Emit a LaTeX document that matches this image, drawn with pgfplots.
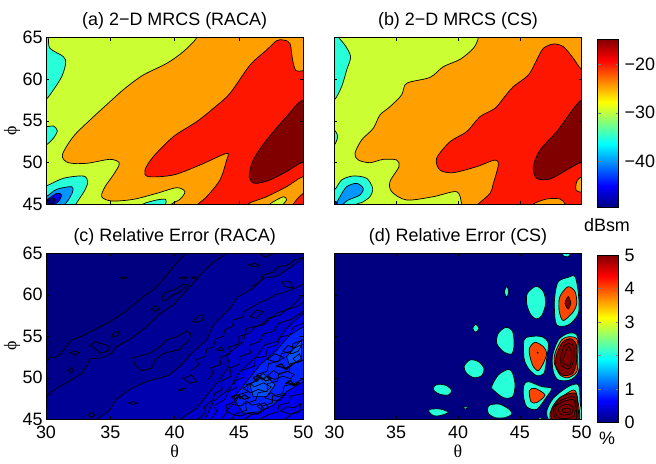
\documentclass[border=0pt]{standalone}
\usepackage{fontspec}
\setmainfont{Liberation Sans}
\newfontfamily\symf{Liberation Serif}
\usepackage{pgfplots}
\pgfplotsset{compat=1.18}
\definecolor{lime}{RGB}{204,255,51}
\definecolor{cya}{RGB}{38,255,215}
\definecolor{azu}{RGB}{0,150,255}
\definecolor{blu}{RGB}{0,0,235}
\definecolor{nav}{RGB}{0,0,128}
\definecolor{ora}{RGB}{255,160,0}
\definecolor{redd}{RGB}{255,22,0}
\definecolor{dred}{RGB}{128,0,0}
\definecolor{ored}{RGB}{255,70,0}
\definecolor{ca}{RGB}{0,0,138}
\definecolor{cb}{RGB}{0,0,150}
\definecolor{cc}{RGB}{0,0,175}
\definecolor{cd}{RGB}{0,0,200}
\definecolor{ce}{RGB}{0,0,240}
\definecolor{cf}{RGB}{0,35,255}
\definecolor{cg}{RGB}{0,80,255}
\pgfplotsset{
  panel/.style={
    scale only axis, anchor=south west,
    xmin=30, xmax=50, ymin=45, ymax=65,
    axis on top, tick align=inside, major tick length=3bp,
    axis line style={line width=0.8bp}, every tick/.append style={line width=0.5bp,black},
    xtick={30,35,...,50}, ytick={45,50,...,65},
    tick label style={font=\fontsize{18}{18}\selectfont},
    xticklabel style={yshift=-3bp},
    /pgf/number format/assume math mode=true,
    title style={font=\fontsize{18}{20}\selectfont, yshift=-1.5bp},
    label style={font=\fontsize{18}{18}\selectfont\symf},
    xlabel style={yshift=-1.5bp, inner sep=1bp},
    ylabel style={at={(axis description cs:-0.132,0.44)}, anchor=center},
  },
  blob/.style={smooth cycle, draw=black, line width=0.7bp, mark=none},
  poly/.style={draw=black, line width=0.7bp, mark=none},
  line/.style={draw=black, line width=0.7bp, mark=none},
  cbar/.style={
    scale only axis, anchor=south west, axis on top,
    width=21bp, xmin=0, xmax=1, xtick=\empty,
    yticklabel pos=right, tick align=inside, major tick length=3bp,
    axis line style={line width=0.8bp},
    tick label style={font=\fontsize{18}{18}\selectfont},
    yticklabel style={xshift=2.5bp},
    /pgf/number format/assume math mode=true,
    colormap/jet,
  },
}
\begin{document}
\begin{tikzpicture}
\path[use as bounding box] (0,0) rectangle (656bp,464bp);

% (a) 2-D MRCS (RACA)
\begin{axis}[panel, at={(46bp,260bp)}, width=257.3bp, height=166.3bp,
  axis background/.style={fill=lime}, title={(a) 2−D MRCS (RACA)},
  xticklabels={}, ylabel={ϕ}]
\addplot[blob, fill=ora] coordinates {(41.71,65)(40.67,63.32)(39.38,61.91)(37.56,60.51)(36.14,58.91)(34.97,57.30)(33.42,55.10)(32.12,53.10)(31.27,50.89)(31.74,49.97)(33.16,49.89)(34.97,50.37)(35.70,49.89)(35.23,48.49)(34.59,47.08)(34.33,45.88)(35.10,45.36)(36.79,45.56)(38.60,46.28)(40.16,46.96)(40.80,46.48)(40.41,45.56)(39.77,45)(39.5,44)(51,44)(51,66)(41.5,66)};
\addplot[blob, fill=redd] coordinates {(48.45,64.72)(48.96,64.32)(49.17,62.31)(49.43,61.03)(50,61.03)(51,61)(51,44)(41.5,44)(41.84,45)(42.49,45.88)(43.52,47.89)(44.04,50.29)(44.04,51.09)(41.97,49.69)(39.90,48.49)(37.95,48.29)(37.69,49.09)(38.34,50.69)(39.90,53.10)(41.71,54.90)(43.01,56.50)(44.30,58.31)(45.86,61.71)(47.15,63.52)(47.93,64.64)};
\addplot[blob, fill=ora] coordinates {(45.73,45)(47.15,45.88)(48.70,47.08)(50,48.29)(51,47.9)(51,46.6)(50,46.28)(49.22,45)(49,44)(46,44)};
\addplot[blob, fill=lime] coordinates {(47.41,45)(48.45,45.88)(48.70,45.48)(48.45,45)(48.4,44.5)(47.5,44.5)};
\addplot[blob, fill=dred] coordinates {(50,57.50)(48.70,55.50)(47.15,52.70)(46.11,50.29)(45.80,48.29)(46.24,47.48)(47.41,47.89)(48.70,48.89)(50,50.01)(51.5,49.4)(51.5,56.3)};
\addplot[blob, fill=cya] coordinates {(30.18,65)(30.31,63.72)(31.35,62.72)(31.53,61.91)(31.22,60.31)(30.57,58.71)(30,57.59)(29,56.8)(29,66)(30.1,66)};
\addplot[blob, fill=cya] coordinates {(30,54.30)(30.57,54.38)(30.88,53.82)(30.57,52.90)(30,52.09)(29,51.5)(29,54.5)};
\addplot[blob, fill=cya] coordinates {(30,47.16)(31.35,48.09)(32.90,48.37)(33.24,47.69)(33.03,46.68)(32.33,45)(32,44)(29,44)(29,46.8)};
\addplot[blob, fill=azu] coordinates {(30,45.88)(30.83,46.76)(31.99,47.08)(32.07,46.48)(31.74,45.48)(31.48,45)(31,44)(29,44)(29,45.5)};
\addplot[blob, fill=blu] coordinates {(30,45.48)(30.83,46.28)(31.22,46.08)(30.96,45.28)(30.70,45)(30.2,44)(29,44)(29,45.2)};
\addplot[blob, fill=nav] coordinates {(30,45.28)(30.44,45.68)(30.70,45.60)(30.57,45.08)(30.31,45)(30,44.5)(29.3,44.7)};
\addplot[blob, fill=cya] coordinates {(37.56,45)(38.60,45.48)(39.30,45.56)(39.30,45)(39.2,44.5)(37.8,44.5)};
\end{axis}

% (b) 2-D MRCS (CS)
\begin{axis}[panel, at={(334.3bp,260bp)}, width=247.4bp, height=166.3bp,
  axis background/.style={fill=lime}, title={(b) 2−D MRCS (CS)},
  xticklabels={}, yticklabels={}]
\addplot[blob, fill=ora] coordinates {(41.64,65)(41.24,63.72)(40.16,62.39)(38.81,61.51)(37.74,60.23)(35.85,59.51)(35.44,58.11)(34.50,56.70)(33.69,55.70)(33.15,54.10)(32.21,52.70)(31.67,51.09)(31.94,50.29)(32.88,49.97)(33.96,50.37)(35.04,50.29)(35.23,49.49)(34.50,47.69)(34.64,46.48)(35.85,45.48)(38.01,45.88)(39.89,46.48)(40.30,45)(40.4,44)(51,44)(51,66)(41.4,66)};
\addplot[blob, fill=redd] coordinates {(50,61.19)(49.33,62.51)(48.52,63.92)(47.71,64.24)(46.90,63.72)(46.36,62.31)(45.69,60.51)(44.47,59.11)(43.67,57.71)(42.99,56.50)(41.78,55.50)(40.70,53.70)(39.35,52.49)(38.27,50.49)(38.54,49.09)(39.62,48.77)(41.51,49.49)(42.99,50.29)(43.26,49.69)(42.86,47.48)(42.59,46.28)(41.64,45)(41,44)(51,44)(51,61.1)};
\addplot[blob, fill=ora] coordinates {(46.09,45)(47.17,45.60)(48.25,45.60)(48.65,45)(48.5,44.5)(46.3,44.5)};
\addplot[blob, fill=ora] coordinates {(50,48.29)(49.60,47.69)(49.54,46.68)(50,46.40)(51,46.4)(51,48.3)};
\addplot[blob, fill=dred] coordinates {(50,57.50)(49.06,55.90)(47.98,53.70)(46.63,51.49)(46.09,49.49)(46.36,48.09)(47.44,48.01)(48.79,49.09)(50,50.01)(51,49.5)(51,56.6)};
\addplot[blob, fill=cya] coordinates {(30.38,65)(30.86,64.12)(31.32,62.72)(31.00,61.11)(30.59,59.11)(30,57.50)(29,56.5)(29,66)(30.2,66)};
\addplot[blob, fill=cya] coordinates {(30,53.90)(30.27,53.10)(30,52.09)(29.5,52)(29.5,54)};
\addplot[blob, fill=cya] coordinates {(30,46.68)(30.59,47.89)(31.54,48.37)(32.61,48.09)(33.10,46.88)(32.88,45.88)(32.21,45.16)(31.81,45)(31.5,44)(29,44)(29,46)};
\addplot[blob, fill=azu] coordinates {(30.19,45)(30.46,45.88)(31.00,47.08)(31.81,47.48)(32.34,46.88)(32.08,46.08)(31.13,45.48)(30.73,45)(30.5,44.5)};
\addplot[blob, fill=blu] coordinates {(30,45.36)(30.24,45)(29.5,44.5)};
\end{axis}

% (c) Relative Error (RACA)
\begin{axis}[panel, at={(46bp,44.7bp)}, width=257.3bp, height=166bp,
  axis background/.style={fill=nav}, title={(c) Relative Error (RACA)},
  xlabel={θ}, ylabel={ϕ}]
\addplot[poly, fill=ca] coordinates {(30,51.95)(30.31,52.43)(30.96,52.55)(31.48,53.55)(31.99,54.56)(32.90,55.08)(33.94,55.96)(34.97,56.77)(36.01,57.77)(36.79,58.77)(37.56,59.78)(38.34,60.58)(38.86,61.39)(39.38,62.39)(39.90,63.39)(40.41,64.28)(40.93,65)(41,66)(51,66)(51,44)(29,44)(29,51.9)} -- cycle;
\addplot[poly, fill=cb] coordinates {(30,47.73)(30.83,48.73)(31.74,49.54)(32.77,50.46)(33.21,51.55)(33.42,52.27)(34.46,52.43)(35.10,52.95)(35.49,53.75)(36.66,54.76)(37.82,56.16)(38.73,57.57)(39.90,58.77)(41.19,60.98)(42.23,62.79)(43.01,63.92)(44.04,65)(44.2,66)(51,66)(51,44)(29,44)(29,47.5)} -- cycle;
\addplot[poly, fill=cc] coordinates {(33.94,45)(34.97,46.12)(35.49,47.45)(36.66,48.73)(37.82,49.54)(39.51,50.26)(40.54,51.55)(41.32,52.95)(42.49,54.56)(43.01,56.37)(44.30,58.37)(44.95,59.78)(46.11,60.78)(46.89,61.99)(47.93,62.19)(48.70,62.99)(50,64.40)(51,64.4)(51,44)(33.5,44)} -- cycle;
\addplot[poly, fill=cd] coordinates {(40.41,45)(41.71,46.33)(42.62,48.13)(43.39,49.54)(44.30,51.55)(44.04,52.75)(45.34,54.36)(45.60,55.96)(46.89,56.37)(47.93,57.77)(48.96,58.37)(50,59.98)(51,60)(51,44)(40,44)} -- cycle;
\addplot[poly, fill=ce] coordinates {(42.36,45)(43.01,47.13)(44.30,48.73)(45.08,50.74)(46.37,52.55)(47.02,53.96)(47.93,54.36)(48.70,55.96)(50,57.77)(51,57.8)(51,44)(42,44)} -- cycle;
\addplot[poly, fill=cf] coordinates {(44.56,47.53)(45.60,49.54)(46.63,51.55)(47.93,53.35)(48.96,55.16)(50,56.16)(51,56.2)(51,48.5)(50,49.54)(48.70,48.33)(47.67,46.73)(46.63,45.92)(45.34,45.72)} -- cycle;
\addplot[poly, fill=cg] coordinates {(45.86,49.14)(46.89,50.54)(47.80,49.14)(47.15,47.73)(46.11,47.73)} -- cycle;
\addplot[poly, fill=cg] coordinates {(48.70,52.55)(49.87,54.56)(49.87,52.35)(48.96,51.35)} -- cycle;
% islands of the low levels
\addplot[poly] coordinates {(35.8,62.05)(36.05,62.2)(36.3,62.05)(36.05,61.9)} -- cycle;
\addplot[poly] coordinates {(38.99,59.38)(39.12,60.18)(39.9,60.58)(40.67,61.26)(41.06,61.18)(40.41,60.38)(39.64,59.78)(39.25,59.26)} -- cycle;
\addplot[poly] coordinates {(40.4,62)(40.7,62.2)(41,62.05)(40.7,61.9)} -- cycle;
\addplot[poly] coordinates {(41.3,62.05)(41.5,62.2)(41.7,62.05)(41.5,61.9)} -- cycle;
\addplot[poly] coordinates {(38.2,58.2)(38.5,58.7)(38.8,58.3)(38.5,58)} -- cycle;
\addplot[poly] coordinates {(35.1,55)(35.3,55.5)(35.7,55.6)(35.6,55.1)(35.2,54.9)} -- cycle;
\addplot[poly] coordinates {(33.42,53.88)(33.81,54.36)(34.46,54.04)(34.97,53.76)(34.84,53.23)(34.2,52.95)(33.81,53.55)} -- cycle;
\addplot[poly] coordinates {(31.85,53)(32.2,53.2)(32.6,53.05)(32.2,52.75)} -- cycle;
\addplot[poly] coordinates {(31.7,50.9)(31.95,51.25)(32.15,50.85)(31.9,50.6)} -- cycle;
\addplot[poly] coordinates {(36.74,52.43)(38.08,52.95)(38.86,53.75)(39.38,54.56)(40.16,54.96)(40.93,55.64)(41.24,55.36)(41.14,54.56)(40.29,53.35)(39.12,52.95)(38.47,52.15)(38.21,51.14)(37.44,50.86)(36.92,51.55)} -- cycle;
\addplot[poly] coordinates {(41.4,56.77)(41.84,57.49)(42.23,57.57)(42.18,56.97)(41.71,56.69)} -- cycle;
\addplot[poly] coordinates {(36.4,47)(36.79,47.13)(37.1,46.93)(36.74,46.8)} -- cycle;
\addplot[poly] coordinates {(33.29,45.52)(33.55,45.8)(33.81,45.52)(33.55,45.24)} -- cycle;
\addplot[poly] coordinates {(40.29,48.53)(40.55,48.7)(40.80,48.73)(40.55,48.4)} -- cycle;
\addplot[poly] coordinates {(40.67,49.94)(41.32,50.34)(41.71,49.54)(41.19,49.34)} -- cycle;
\addplot[poly] coordinates {(43.26,53.35)(43.65,53.75)(43.78,53.23)} -- cycle;
\addplot[poly] coordinates {(45.73,63.59)(46.24,63.79)(46.63,63.51)(46.11,63.39)} -- cycle;
\addplot[poly] coordinates {(45.86,57.37)(46.37,58.17)(46.89,57.97)(46.37,57.17)} -- cycle;
\addplot[poly] coordinates {(48.32,61.59)(48.96,61.59)(49.22,60.78)(48.58,60.98)} -- cycle;
\addplot[line] coordinates {(46.5,65)(47.02,64.52)(47.54,64.88)(47.7,65)};
% the crowded contours of the lower right
\addplot[line] coordinates {(41.3,50.9)(41.9,51.6)(41.7,52.2)(42.4,52.6)(42.5,53.5)(43.0,53.7)(43.2,54.7)(43.8,55.0)(43.9,55.8)(44.5,56.2)(44.6,57.0)(45.3,57.3)(45.4,58.0)(46.1,58.6)(46.6,59.1)(47.2,59.4)(47.8,60.0)(48.5,60.3)(49.2,60.7)(50,61.3)};
\addplot[line] coordinates {(42.6,49.8)(43.0,50.6)(42.8,51.2)(43.6,51.6)(43.5,52.4)(44.3,52.9)(44.2,53.7)(45.0,54.1)(45.0,55.0)(45.7,55.3)(46.2,56)(46.9,56.6)(47.3,57.2)(48.1,57.5)(48.7,58.2)(49.5,58.6)(50,59.1)};
\addplot[line] coordinates {(46,61)(46.6,61.5)(46.9,62.4)(47.6,62.7)(48.1,63.4)(48.8,63.6)(49.3,64.2)(50,64.5)};
\addplot[line] coordinates {(42.8,45)(43.3,46)(43.0,46.6)(43.9,47.4)(44.2,48.4)(44.8,48.8)(44.6,49.6)(45.4,50.1)(45.3,50.9)(46.2,51.4)(46.3,52.4)(47.1,52.6)(47.2,53.6)(48.0,54.0)(48.2,54.9)(49.0,55.2)(49.2,56.1)(50,56.6)};
\addplot[line] coordinates {(43.6,45)(44.1,45.9)(44.0,46.7)(44.8,47.2)(45.0,48.0)(45.7,48.3)(45.6,49.2)(46.4,49.6)(46.4,50.4)(47.2,50.8)(47.3,51.7)(48.1,52.0)(48.3,52.9)(49.1,53.2)(49.2,54.1)(50,54.6)};
\addplot[line] coordinates {(44.4,45)(44.8,45.7)(45.6,46.1)(45.5,46.9)(46.3,47.3)(46.5,48.2)(47.2,48.4)(47.2,49.3)(48.0,49.6)(48.1,50.5)(48.9,50.8)(49.0,51.7)(50,52.1)};
\addplot[line] coordinates {(45.4,45)(46.0,45.6)(46.7,45.8)(46.8,46.6)(47.6,47.0)(47.6,47.8)(48.4,48.1)(48.5,49.0)(49.3,49.3)(50,49.9)};
\addplot[line] coordinates {(46.6,45)(47.2,45.5)(48.0,45.9)(48.1,46.7)(48.9,47.0)(49.0,47.8)(50,48.1)};
\addplot[line] coordinates {(41.8,45)(42.4,45.8)(42.3,46.5)(43.0,47.4)(43.1,48.1)(43.7,48.6)(43.6,49.6)(44.4,50.2)(44.3,51.2)(45.0,51.6)(45.1,52.6)(45.9,53.0)(45.8,53.9)(46.6,54.4)(46.9,55.3)(47.7,55.6)(48.1,56.6)(49,57)(50,58)};
\addplot[line] coordinates {(48.6,45)(49.1,45.7)(50,46.2)};
% dark knots
\addplot[line, line width=1.1bp] coordinates {(44.4,47.7)(44.8,47.95)(45.1,47.5)(45.4,47.95)(45.8,47.6)(45.4,47.4)(45,47.9)(44.7,47.4)(44.4,47.7)};
\addplot[line, line width=1.1bp] coordinates {(46.1,50)(46.5,50.3)(46.8,49.8)(47.2,50.2)(47.5,49.9)(47.1,49.6)(46.7,50.1)(46.4,49.6)(46.1,50)};
\addplot[line, line width=1.1bp] coordinates {(47.9,51.4)(48.3,51.7)(48.6,51.1)(49,51.5)(48.7,51)(48.3,51.3)(47.9,51.4)};
\addplot[line, line width=1.1bp] coordinates {(48.6,49.3)(49,49.7)(49.3,49.1)(49.7,49.5)(49.3,49)(48.9,49.4)(48.6,49.3)};
\addplot[line] coordinates {(47.2,52.2)(47.8,52.9)(48.5,52.4)(47.9,51.9)(47.2,52.2)};
\addplot[line] coordinates {(49.2,52.3)(49.7,52.9)(49.9,52.1)(49.5,51.8)(49.2,52.3)};
\addplot[line] coordinates {(46.4,46.6)(47,47)(47.3,46.4)(46.8,46.1)(46.4,46.6)};
\addplot[line] coordinates {(44,46)(44.5,46.8)(45.2,46.6)(45.6,47.2)(46,46.7)(46.6,46.9)(47,46.2)(46.4,45.6)(45.7,45.7)(45.1,45.4)(44.5,45.6)(44,46)};
\addplot[line] coordinates {(45.3,48.7)(45.9,49.3)(46.2,48.9)(46.9,49.4)(47.5,48.9)(47.1,48.3)(46.5,48.6)(45.9,48.2)(45.3,48.7)};
\addplot[line] coordinates {(47.2,50.2)(47.7,50.9)(48.1,50.4)(48.7,50.8)(49.3,50.4)(49,49.9)(48.4,50.2)(47.8,49.8)(47.2,50.2)};
\addplot[line] coordinates {(48.4,53.2)(48.8,53.9)(49.3,53.6)(49.9,54)(49.6,53.2)(49.1,52.9)(48.4,53.2)};
\addplot[line] coordinates {(47,47.6)(47.5,48.2)(48,47.7)(48.6,48)(48.2,47.3)(47.6,47.3)(47,47.6)};
\addplot[line] coordinates {(48.2,46)(48.7,46.5)(49.3,46.4)(49.8,46.9)(49.7,45.9)(49,45.6)(48.2,46)};
\end{axis}

% (d) Relative Error (CS)
\begin{axis}[panel, at={(334.3bp,44.7bp)}, width=247.4bp, height=166bp,
  axis background/.style={fill=nav}, title={(d) Relative Error (CS)},
  xlabel={θ}, yticklabels={}]
\addplot[blob, fill=cya] coordinates {(48.44,65)(48.52,64.68)(48.92,64.60)(49.06,65)(49,65.5)(48.5,65.5)};
\addplot[blob, fill=cya] coordinates {(43.94,60.98)(44.10,60.38)(43.94,59.74)(43.75,60.38)};
\addplot[blob, fill=cya] coordinates {(46.31,61.02)(46.90,60.38)(47.09,58.98)(46.77,57.49)(46.31,57.09)(45.82,57.77)(45.55,58.98)(45.61,60.18)};
\addplot[blob, fill=cya] coordinates {(41.43,56.45)(41.70,55.96)(41.43,55.48)(41.19,55.96)};
\addplot[blob, fill=cya] coordinates {(43.88,56.08)(44.42,55.56)(44.53,53.96)(44.34,52.87)(43.67,53.15)(43.13,54.16)(43.26,55.36)};
\addplot[blob, fill=cya] coordinates {(40.97,52.15)(41.64,51.95)(42.10,51.14)(41.91,50.26)(41.29,50.02)(40.70,50.54)(40.49,51.35)};
\addplot[blob, fill=cya] coordinates {(44.07,51.02)(44.42,50.54)(44.61,49.14)(44.42,47.73)(43.67,47.61)(42.86,48.53)(42.72,48.94)(43.26,50.34)};
\addplot[blob, fill=cya] coordinates {(38.41,49.22)(39.08,49.06)(39.49,48.45)(39.22,47.93)(38.54,48.01)(38.06,48.45)(38.06,48.94)};
\addplot[blob, fill=cya] coordinates {(37.74,46.20)(38.54,46.24)(39.22,45.84)(38.54,45.44)(38.01,45.44)(37.65,45.92)};
\addplot[blob, fill=cya] coordinates {(40.38,46.41)(40.84,46.53)(40.62,46.24)};
\addplot[blob, fill=cya] coordinates {(42.59,46.73)(43.40,46.81)(44.20,46.12)(44.34,45.60)(43.80,45.20)(42.99,45.20)(42.45,45.72)(42.40,46.33)};
\addplot[blob, fill=cya] coordinates {(46.36,44.9)(46.63,45.2)(46.95,44.9)};
\addplot[blob, fill=cya] coordinates {(45.34,54.56)(45.82,54.96)(46.77,54.96)(47.30,54.16)(47.17,52.35)(46.95,50.54)(46.36,50.26)(45.69,51.14)(45.34,52.35)};
\addplot[blob, fill=ored] coordinates {(45.77,53.55)(46.23,54.28)(46.90,53.75)(47.17,52.95)(46.90,51.75)(46.50,50.86)(46.09,51.35)(45.82,52.55)};
\addplot[only marks, mark=*, mark size=0.7bp, black] coordinates {(46.44,53.03)};
\addplot[blob, fill=cya] coordinates {(45.34,49.14)(45.69,49.54)(46.77,48.94)(47.57,48.73)(47.17,47.73)(46.36,46.20)(45.55,46.53)(45.28,47.93)};
\addplot[blob, fill=ored] coordinates {(45.77,48.45)(46.23,48.73)(47.03,47.93)(46.36,47.01)(45.90,47.13)};
\addplot[blob, fill=cya] coordinates {(48.11,61.59)(48.92,62.11)(49.46,62.19)(49.73,60.18)(49.73,57.77)(48.92,56.37)(47.98,56.37)(47.79,58.37)(47.84,59.98)};
\addplot[blob, fill=ored] coordinates {(48.38,60.18)(48.92,60.98)(49.46,60.38)(49.60,58.98)(49.33,57.97)(48.52,56.89)(48.19,57.97)(48.17,59.38)};
\addplot[blob, fill=dred] coordinates {(48.92,59.78)(49.11,58.98)(48.92,58.29)(48.65,58.98)};
\addplot[blob, fill=cya] coordinates {(48.11,54.56)(48.92,55.36)(49.60,55.16)(49.81,53.15)(49.73,50.74)(49.06,49.74)(48.11,49.74)(47.71,50.74)(47.63,52.55)};
\addplot[blob, fill=ored] coordinates {(47.84,52.95)(48.38,54.56)(49.06,54.96)(49.65,54.56)(49.68,52.35)(49.60,50.74)(48.92,50.02)(48.25,50.34)(47.79,51.75)};
\addplot[blob, fill=dred] coordinates {(48.0,52.95)(48.46,54.3)(49.12,54.7)(49.58,53.9)(49.55,51.6)(49.2,50.45)(48.38,50.35)(47.87,51.55)};
\addplot[blob] coordinates {(48.30,52.35)(48.65,53.96)(49.33,53.88)(49.33,51.95)(48.92,51.06)(48.38,51.55)};
\addplot[blob] coordinates {(48.52,52.35)(48.92,53.75)(49.19,52.95)(49.06,51.55)(48.52,51.75)};
\addplot[blob, fill=cya] coordinates {(47.17,45.92)(47.71,47.53)(48.92,48.94)(49.73,49.14)(49.87,47.13)(49.87,44.7)(47.57,44.7)};
\addplot[blob, fill=ored] coordinates {(47.44,45.72)(48.11,47.33)(49.33,48.53)(49.65,47.53)(49.73,44.7)(47.71,44.7)};
\addplot[blob, fill=dred] coordinates {(47.55,46.2)(48.3,47.7)(49.5,48.15)(49.68,46.6)(49.65,44.7)(47.75,44.7)};
\addplot[blob] coordinates {(47.7,46.3)(48.4,47.35)(49.42,47.7)(49.55,46.3)(49.5,45)(48,45)};
\addplot[blob] coordinates {(47.84,46.41)(48.52,47.13)(49.38,47.33)(49.46,45.92)(49.19,45.2)(48.11,45.2)};
\addplot[blob] coordinates {(48.11,46.33)(48.73,46.81)(49.27,46.53)(49.19,45.72)(48.38,45.52)};
\addplot[blob] coordinates {(48.46,46.24)(49.0,46.33)(49.06,45.92)(48.52,45.84)};
\end{axis}

% colour bars
\begin{axis}[cbar, at={(597.7bp,256.7bp)}, height=168.3bp, ymin=-49.5, ymax=-14.8,
  ytick={-40,-30,-20}, yticklabels={−40,−30,−20}]
\addplot[surf, shader=interp, point meta=y, mesh/rows=2] coordinates {(0,-49.5)(1,-49.5)(0,-14.8)(1,-14.8)};
\end{axis}
\begin{axis}[cbar, at={(597.7bp,41.7bp)}, height=167.3bp, ymin=0, ymax=5,
  ytick={0,1,2,3,4,5}]
\addplot[surf, shader=interp, point meta=y, mesh/rows=2] coordinates {(0,0)(1,0)(0,5)(1,5)};
\end{axis}
\node[font=\fontsize{18}{20}\selectfont] at (607bp,239bp) {dBsm};
\node[font=\fontsize{18}{20}\selectfont] at (607bp,26bp) {\%};
\end{tikzpicture}
\end{document}
